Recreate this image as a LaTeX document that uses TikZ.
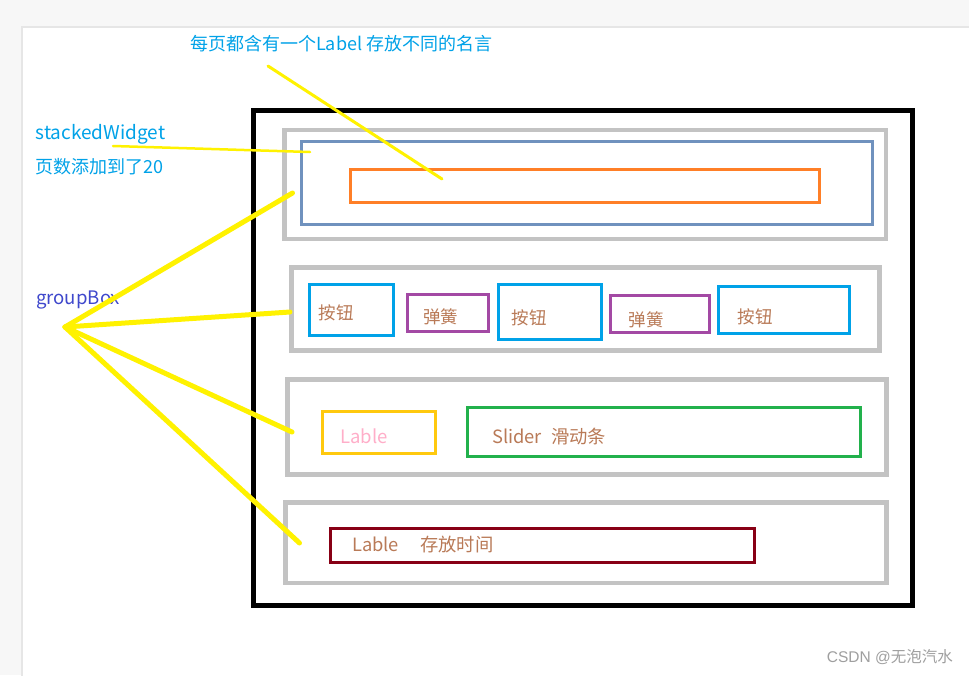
\documentclass[tikz,border=0pt]{standalone}
\usepackage{fontspec}
\setmainfont{Noto Sans CJK SC}
\newfontfamily\wmfont{Liberation Sans}
\usetikzlibrary{positioning}
\definecolor{pagebg}{HTML}{F7F7F7}
\definecolor{pageedge}{HTML}{E6E6E6}
\definecolor{boxgray}{HTML}{C3C3C3}
\definecolor{stackblue}{HTML}{7092BE}
\definecolor{quoteorange}{HTML}{FF7F27}
\definecolor{btnblue}{HTML}{00A2E8}
\definecolor{springpurple}{HTML}{A349A4}
\definecolor{lblyellow}{HTML}{FFC90E}
\definecolor{slidergreen}{HTML}{22B14C}
\definecolor{timered}{HTML}{880015}
\definecolor{wbrown}{HTML}{B97A57}
\definecolor{wpink}{HTML}{FFAEC9}
\definecolor{notecyan}{HTML}{00A2E8}
\definecolor{groupblue}{HTML}{3F48CC}
\definecolor{hiyellow}{HTML}{FFF200}
\tikzset{
  panel/.style={draw=boxgray,line width=4.5pt,inner sep=0pt},
  widget/.style={draw=#1,line width=3pt,inner sep=0pt},
  note/.style={text=notecyan,font=\fontsize{18}{22}\selectfont,inner sep=0pt,anchor=west},
  wtext/.style={text=wbrown,font=\fontsize{17.5}{21}\selectfont,inner sep=0pt},
  hiline/.style={draw=hiyellow,line width=#1,line cap=round}
}
\begin{document}
\begin{tikzpicture}[x=1pt,y=-1pt]
\useasboundingbox (0,0) rectangle (969,675);
\fill[pagebg] (0,0) rectangle (969,675);
\draw[pageedge,fill=white,line width=1.5pt] (22,27) rectangle (990,700);
% window and its four group boxes
\node[draw,line width=5pt,inner sep=0pt,minimum width=658.5pt,minimum height=495pt] (win) at (583.2,357.6) {};
\node[panel,minimum width=601.3pt,minimum height=109pt] (g1) at (585.2,184.5) {};
\node[panel,minimum width=588pt,minimum height=83pt] (g2) at (585.5,309) {};
\node[panel,minimum width=599pt,minimum height=95pt] (g3) at (587,427) {};
\node[panel,minimum width=601.2pt,minimum height=80.4pt] (g4) at (585.9,542.8) {};
% stacked widget page
\node[widget=stackblue,minimum width=570.8pt,minimum height=83pt] (stack) at (586.9,183.2) {};
\node[widget=quoteorange,minimum width=469.7pt,minimum height=33pt] (quote) at (584.9,185.5) {};
% buttons and springs
\node[widget=btnblue,minimum width=84pt,minimum height=51.7pt] (btn1) at (351,309.9) {};
\node[widget=springpurple,minimum width=80.5pt,minimum height=36.3pt] (spr1) at (447.8,312.9) {};
\node[widget=btnblue,minimum width=102.6pt,minimum height=54.3pt] (btn2) at (550,311.9) {};
\node[widget=springpurple,minimum width=99pt,minimum height=36.7pt] (spr2) at (660.2,313.7) {};
\node[widget=btnblue,minimum width=131pt,minimum height=46.5pt] (btn3) at (783.5,309.8) {};
\node[wtext] (tb1) at (336,313) {按钮};
\node[wtext] (ts1) at (440.5,316.7) {弹簧};
\node[wtext] (tb2) at (529,317.5) {按钮};
\node[wtext] (ts2) at (646,319.7) {弹簧};
\node[wtext] (tb3) at (755,317) {按钮};
% label and slider
\node[widget=lblyellow,minimum width=113.3pt,minimum height=42pt] (lbl) at (378.9,432.3) {};
\node[widget=slidergreen,minimum width=393.1pt,minimum height=49pt] (slider) at (664.2,431.8) {};
\node[wtext,text=wpink,anchor=west,font=\fontsize{18.5}{22}\selectfont] (tlbl) at (340,436) {Lable};
\node[wtext,anchor=west,font=\fontsize{18.3}{22}\selectfont] (tslider) at (492,437) {Slider\hspace{0.5em}滑动条};
% time label
\node[widget=timered,minimum width=424pt,minimum height=34pt] (time) at (542,545.3) {};
\node[wtext,anchor=west,font=\fontsize{18.3}{22}\selectfont] (ttime) at (352,545) {Lable\hspace{1.15em}存放时间};
% notes
\node[note] (qnote) at (190,44) {每页都含有一个Label 存放不同的名言};
\node[note,font=\fontsize{19}{22}\selectfont] (swnote) at (35.5,134) {stackedWidget};
\node[note] (pgnote) at (35.5,167) {页数添加到了20};
\node[note,text=groupblue,font=\fontsize{18.6}{22}\selectfont] (gbnote) at (36,300) {groupBox};
\node[text=gray!75,font=\fontsize{15.5}{18}\selectfont,inner sep=0pt,anchor=east] (mark) at (953,657) {{\wmfont CSDN @}无泡汽水};
% yellow pointers
\coordinate (qa) at (268,66);
\coordinate (qb) at (442,179);
\coordinate (sa) at (113,146);
\coordinate (sb) at (310,152);
\coordinate (hub) at (65,327);
\coordinate (p1) at (292.5,193);
\coordinate (p2) at (290,312);
\coordinate (p3) at (292,432);
\coordinate (p4) at (299.5,543);
\draw[hiline=3pt] (qa) -- (qb);
\draw[hiline=2.5pt] (sa) -- (sb);
\foreach \p in {p1,p2,p3,p4}
  \draw[hiline=5pt] (hub) -- (\p);
\end{tikzpicture}
\end{document}
